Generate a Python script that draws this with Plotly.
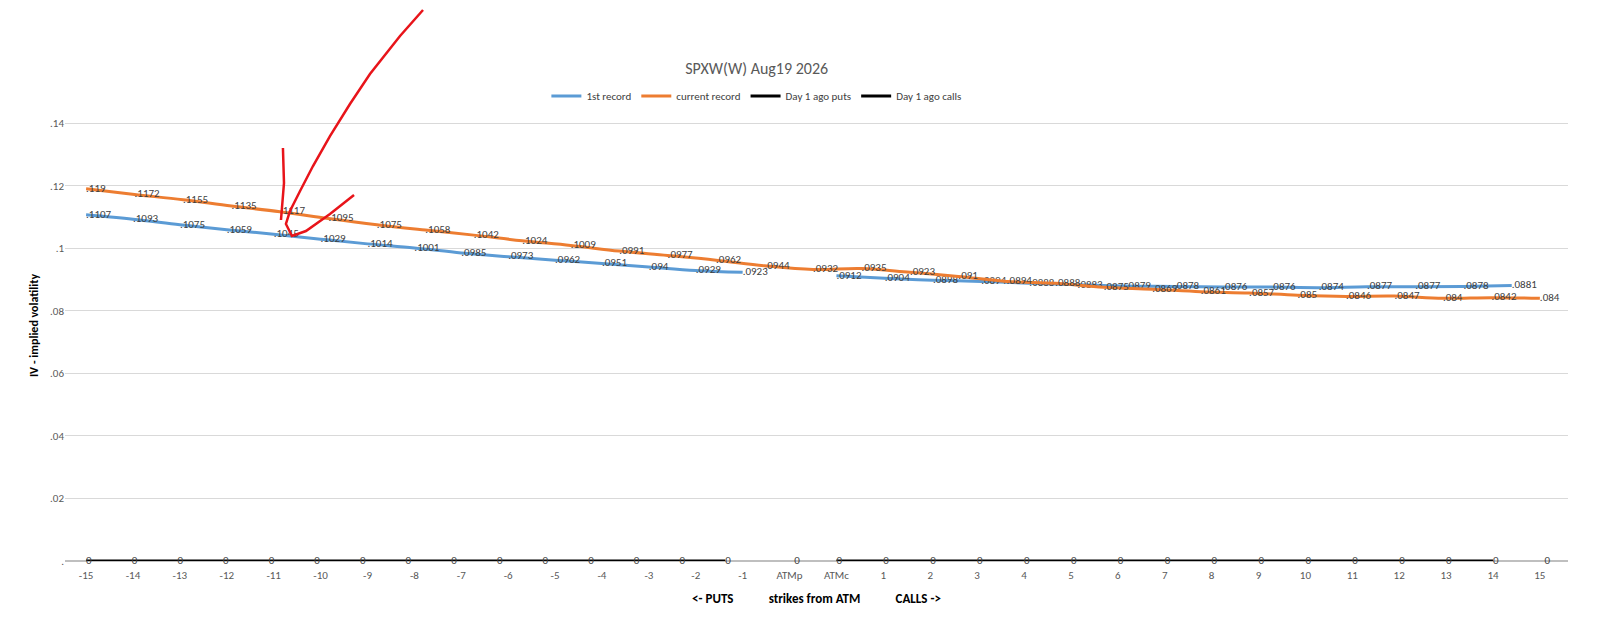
import plotly.graph_objects as go

cats = [str(i) for i in range(-15, 0)] + ["ATMp", "ATMc"] + [str(i) for i in range(1, 16)]
orange = [.119,.1172,.1155,.1135,.1117,.1095,.1075,.1058,.1042,.1024,.1009,.0991,.0977,.0962,.0944,
          .0932,.0935,.0923,.091,.0894,.0888,.0875,.0869,.0861,.0857,.085,.0846,.0847,.084,.0842,.084]
blue_puts = [.1107,.1093,.1075,.1059,.1045,.1029,.1014,.1001,.0985,.0973,.0962,.0951,.094,.0929,.0923]
blue_calls = [.0912,.0904,.0898,.0894,.0888,.0883,.0879,.0878,.0876,.0876,.0874,.0877,.0877,.0878,.0881]
puts_ago = [0]*16
calls_ago = [0]*16

n = len(cats)
xo = [i*31/30 for i in range(len(orange))]
xbp = [i for i in range(len(blue_puts))]
xbc = [16 + i*14.4/14 for i in range(len(blue_calls))]
xpa = [i*14.6/15 for i in range(15)] + [15.1]
xca = [16 + i for i in range(15)] + [31.1]

def lab(v):
    if v == 0:
        return "0"
    s = f"{v:.4f}".rstrip("0")
    return s[1:] if s.startswith("0.") else s

FF = "Calibri, Carlito, Liberation Sans, Arial"
fnt = dict(family=FF, size=11, color="#404040")
fig = go.Figure()
fig.add_trace(go.Scatter(x=xbp, y=blue_puts, mode="lines+text", name="1st record",
    line=dict(color="#5B9BD5", width=3, shape="spline"), text=[lab(v) for v in blue_puts],
    textposition="middle right", textfont=fnt, legendgroup="b", cliponaxis=False))
fig.add_trace(go.Scatter(x=xbc, y=blue_calls, mode="lines+text", showlegend=False,
    line=dict(color="#5B9BD5", width=3, shape="spline"), text=[lab(v) for v in blue_calls],
    textposition="middle right", textfont=fnt, legendgroup="b", cliponaxis=False))
fig.add_trace(go.Scatter(x=xo, y=orange, mode="lines+text", name="current record",
    line=dict(color="#ED7D31", width=3, shape="spline"), text=[lab(v) for v in orange],
    textposition="middle right", textfont=fnt, cliponaxis=False))
fig.add_trace(go.Scatter(x=xpa[:-1], y=puts_ago[:-1], mode="lines", name="Day 1 ago puts",
    line=dict(color="black", width=3), cliponaxis=False))
fig.add_trace(go.Scatter(x=xca[:-1], y=calls_ago[:-1], mode="lines", name="Day 1 ago calls",
    line=dict(color="black", width=3), cliponaxis=False))
fig.add_trace(go.Scatter(x=xpa, y=puts_ago, mode="text", showlegend=False,
    text=[lab(v) for v in puts_ago], textposition="middle right", textfont=fnt, cliponaxis=False))
fig.add_trace(go.Scatter(x=xca, y=calls_ago, mode="text", showlegend=False,
    text=[lab(v) for v in calls_ago], textposition="middle right", textfont=fnt, cliponaxis=False))

W, H, L, R, T, B = 1610, 638, 57, 50, 82, 85
pw, ph = W - L - R, H - T - B
def P(pts):
    s = ""
    for k, (px, py) in enumerate(pts):
        s += ("M" if k == 0 else "L") + f"{(px-L)/pw:.4f},{(H-B-py)/ph:.4f} "
    return s
red1 = [(415,2),(392,28),(362,66),(342,96),(322,128),(305,158),(292,183),(282,203),(278,216),(284,228),(298,223),(322,206),(346,187)]
red2 = [(275,140),(276,175),(273,212)]
shapes = [dict(type="path", xref="paper", yref="paper", path=P(r), line=dict(color="#E8141A", width=2.5)) for r in (red1, red2)]

fig.update_layout(
    width=W, height=H, margin=dict(l=L, r=R, t=T, b=B), plot_bgcolor="white", paper_bgcolor="white",
    title=dict(text="SPXW(W) Aug19 2026", x=0.465, y=1-60/H, yref="container", xanchor="center", yanchor="middle",
               font=dict(family=FF, size=16, color="#595959")),
    legend=dict(orientation="h", x=0.46, y=(H-B-88)/ph, xanchor="center", yanchor="middle",
                font=dict(family=FF, size=11, color="#404040")),
    xaxis=dict(range=[-0.45, 31.6], tickmode="array", tickvals=list(range(n)), ticktext=cats,
               showgrid=False, zeroline=False, showline=False, ticklabelstandoff=6,
               tickfont=dict(family=FF, size=11, color="#595959"),
               title=dict(text="<b><- PUTS            strikes from ATM            CALLS -></b>", standoff=12,
                          font=dict(family=FF, size=13, color="#000"))),
    yaxis=dict(range=[0, 0.1506], tickvals=[0,.02,.04,.06,.08,.1,.12,.14],
               ticktext=[".", ".02", ".04", ".06", ".08", ".1", ".12", ".14"],
               gridcolor="#D9D9D9", zeroline=True, zerolinecolor="#BFBFBF",
               tickfont=dict(family=FF, size=11, color="#595959"),
               title=dict(text="<b>IV - implied volatility</b>", standoff=8,
                          font=dict(family=FF, size=12, color="#000"))),
    shapes=shapes,
)
fig.write_html("out.html")
